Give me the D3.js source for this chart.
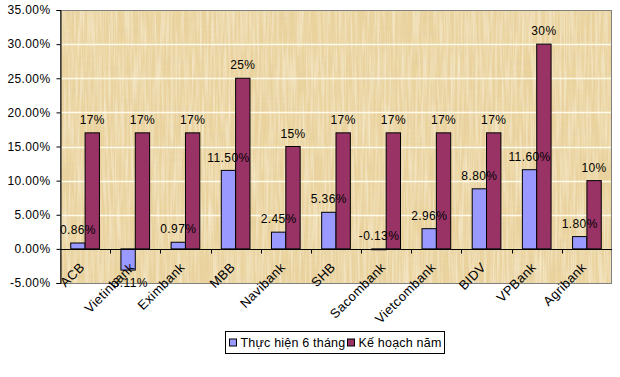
<!DOCTYPE html>
<html>
<head>
<meta charset="utf-8">
<script src="https://cdn.jsdelivr.net/npm/d3@7/dist/d3.min.js"></script>
<style>
  html, body { margin: 0; padding: 0; background: #fff; }
  svg { display: block; font-family: Arial, "Liberation Sans", sans-serif; letter-spacing: 0.4px; }
</style>
</head>
<body>
<svg id="chart" width="620" height="377"></svg>
<script>
const categories = ["ACB", "Vietinbank", "Eximbank", "MBB", "Navibank", "SHB", "Sacombank", "Vietcombank", "BIDV", "VPBank", "Agribank"];
const actual6m = [0.86, -3.11, 0.97, 11.50, 2.45, 5.36, -0.13, 2.96, 8.80, 11.60, 1.80];
const planYear = [17, 17, 17, 25, 15, 17, 17, 17, 17, 30, 10];
const seriesNames = ["Thực hiện 6 tháng", "Kế hoạch năm"];
const yTicks = [-5, 0, 5, 10, 15, 20, 25, 30, 35];

const colors = ["#9999FF", "#993366"];
const svg = d3.select("#chart");
const margin = { left: 60, right: 8, top: 10, bottom: 94 };
const W = 620, H = 377;

const x = d3.scaleBand().domain(categories).range([margin.left, W - margin.right]);
const y = d3.scaleLinear().domain([-5, 35]).range([H - margin.bottom, margin.top]);
const gapRatio = 1.5;
const barW = x.bandwidth() / (2 + gapRatio);

// papyrus-like texture
const defs = svg.append("defs");
const f = defs.append("filter").attr("id", "papyrus").attr("x", 0).attr("y", 0).attr("width", 1).attr("height", 1);
f.append("feFlood").attr("flood-color", "#EAD39D").attr("result", "base");
f.append("feTurbulence").attr("type", "fractalNoise").attr("baseFrequency", "0.02 0.45").attr("numOctaves", 2).attr("seed", 3).attr("result", "h");
f.append("feColorMatrix").attr("in", "h").attr("type", "matrix")
  .attr("values", "0 0 0 0 0.78  0 0 0 0 0.62  0 0 0 0 0.36  0 0 0 1.3 -0.5").attr("result", "hc");
f.append("feTurbulence").attr("type", "fractalNoise").attr("baseFrequency", "0.45 0.02").attr("numOctaves", 2).attr("seed", 8).attr("result", "v");
f.append("feColorMatrix").attr("in", "v").attr("type", "matrix")
  .attr("values", "0 0 0 0 0.97  0 0 0 0 0.90  0 0 0 0 0.72  0 0 0 1.3 -0.5").attr("result", "vc");
f.append("feComposite").attr("in", "hc").attr("in2", "base").attr("operator", "over").attr("result", "b1");
f.append("feComposite").attr("in", "vc").attr("in2", "b1").attr("operator", "over");

const x0 = margin.left, x1 = W - margin.right, yTop = y(35), yBot = y(-5);
svg.append("rect").attr("x", x0).attr("y", yTop).attr("width", x1 - x0).attr("height", yBot - yTop)
  .attr("fill", "#EAD39D").attr("filter", "url(#papyrus)");

// gridlines
svg.append("g").selectAll("line").data(yTicks.filter(t => t > 0 && t < 35)).join("line")
  .attr("x1", x0).attr("x2", x1).attr("y1", d => Math.round(y(d)) + 0.5).attr("y2", d => Math.round(y(d)) + 0.5)
  .attr("stroke", "#FFFBEA").attr("stroke-width", 1.3);

// plot border
svg.append("rect").attr("x", x0 + 0.5).attr("y", Math.round(yTop) + 0.5).attr("width", x1 - x0 - 1).attr("height", Math.round(yBot - yTop))
  .attr("fill", "none").attr("stroke", "#808080");

// bars
const barLayer = svg.append("g");
const labelLayer = svg.append("g");
categories.forEach((c, i) => {
  const vals = [actual6m[i], planYear[i]];
  const gx = x(c) + (x.bandwidth() - 2 * barW) / 2;
  vals.forEach((v, s) => {
    const bx = gx + s * barW;
    barLayer.append("rect")
      .attr("x", bx).attr("width", barW)
      .attr("y", Math.min(y(v), y(0))).attr("height", Math.abs(y(v) - y(0)))
      .attr("fill", colors[s]).attr("stroke", "#000").attr("stroke-width", 1);
    const label = s === 0 ? v.toFixed(2) + "%" : d3.format("d")(v) + "%";
    const below = v < -1;
    labelLayer.append("text")
      .attr("x", bx + barW / 2)
      .attr("y", below ? y(v) + 13 : Math.min(y(v), y(0)) - 13)
      .attr("dy", "0.35em").attr("text-anchor", "middle")
      .attr("font-size", 12).attr("fill", "#000").text(label);
  });
});

// y axis
const yAxis = d3.axisLeft(y).tickValues(yTicks).tickFormat(d => d.toFixed(2) + "%").tickSize(4).tickPadding(6);
const ya = svg.append("g").attr("transform", `translate(${x0 + 0.5},0)`).call(yAxis);
ya.select(".domain").attr("stroke", "#000");
ya.selectAll(".tick line").attr("stroke", "#000");
ya.selectAll("text").attr("font-size", 12).attr("font-family", "Arial, 'Liberation Sans', sans-serif").attr("fill", "#000");

// zero axis with category ticks
const xa = svg.append("g").attr("transform", `translate(0,${Math.round(y(0)) + 0.5})`);
xa.append("line").attr("x1", x0).attr("x2", x1).attr("stroke", "#000");
xa.selectAll("line.t").data(categories.slice(1)).join("line").attr("class", "t")
  .attr("x1", d => Math.round(x(d)) + 0.5).attr("x2", d => Math.round(x(d)) + 0.5).attr("y1", 0).attr("y2", 4).attr("stroke", "#000");

// category labels rotated
svg.append("g").selectAll("text").data(categories).join("text")
  .attr("transform", d => `translate(${x(d) + x.bandwidth() / 2 - 3},${y(0) + 16}) rotate(-45)`)
  .attr("text-anchor", "end").attr("dy", "0.35em")
  .attr("font-size", 13).attr("fill", "#000").text(d => d);

// legend
const lg = svg.append("g").attr("transform", "translate(225.5,331.5)").style("letter-spacing", "0.2px");
lg.append("rect").attr("width", 219).attr("height", 22).attr("fill", "#fff").attr("stroke", "#000");
const items = [{ name: seriesNames[0], c: colors[0], x: 4 }, { name: seriesNames[1], c: colors[1], x: 122 }];
items.forEach(it => {
  lg.append("rect").attr("x", it.x).attr("y", 7.5).attr("width", 7).attr("height", 7).attr("fill", it.c).attr("stroke", "#000");
  lg.append("text").attr("x", it.x + 11).attr("y", 11).attr("dy", "0.35em").attr("font-size", 12.5).attr("fill", "#000").text(it.name);
});
</script>
</body>
</html>
